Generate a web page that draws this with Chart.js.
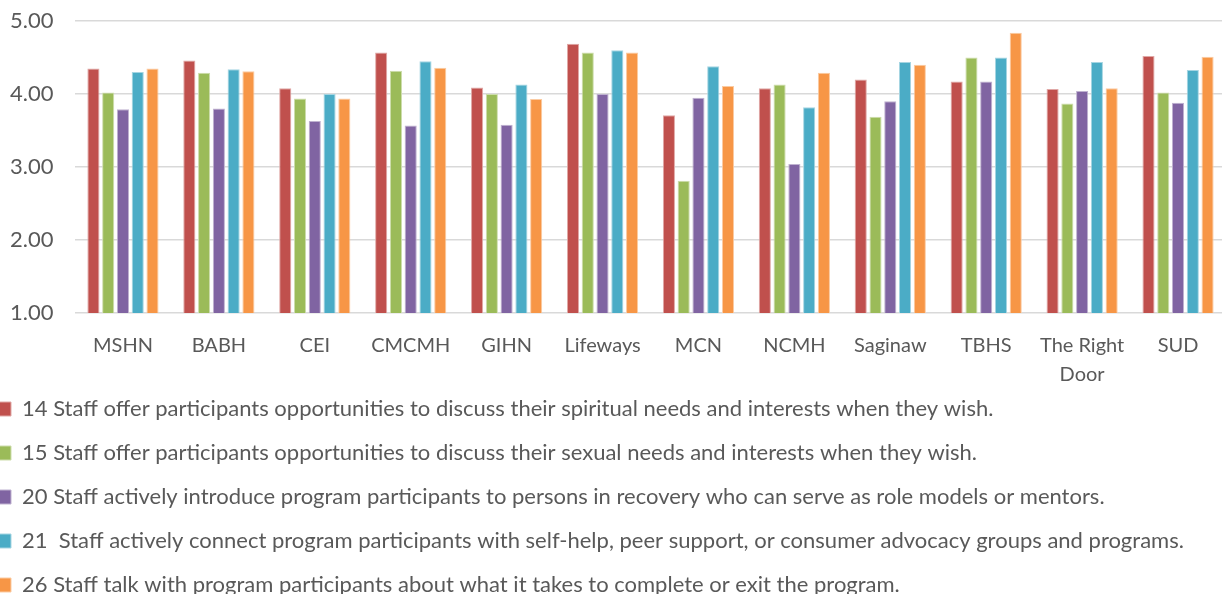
<!DOCTYPE html>
<html>
<head>
<meta charset="utf-8">
<script src="https://cdn.jsdelivr.net/npm/chart.js@4"></script>
<style>
    html, body { margin: 0; padding: 0; background: #fff; overflow: hidden; }
    #wrap { width: 1226px; height: 618px; }
</style>
</head>
<body>
<div id="wrap"><canvas id="fidelityChart"></canvas></div>
<script>
const categories = ["MSHN", "BABH", "CEI", "CMCMH", "GIHN", "Lifeways", "MCN", "NCMH", "Saginaw", "TBHS", ["The Right", "Door"], "SUD"];
const yTicks = [1, 2, 3, 4, 5];

const q14 = [4.35, 4.46, 4.08, 4.57, 4.09, 4.69, 3.71, 4.08, 4.20, 4.17, 4.07, 4.52];
const q15 = [4.02, 4.29, 3.94, 4.32, 4.00, 4.57, 2.81, 4.13, 3.69, 4.50, 3.87, 4.02];
const q20 = [3.79, 3.80, 3.63, 3.57, 3.58, 4.00, 3.95, 3.04, 3.90, 4.17, 4.04, 3.88];
const q21 = [4.30, 4.34, 4.00, 4.45, 4.13, 4.60, 4.38, 3.82, 4.44, 4.50, 4.44, 4.33];
const q26 = [4.35, 4.31, 3.94, 4.36, 3.93, 4.57, 4.11, 4.29, 4.40, 4.84, 4.08, 4.51];

const seriesLabels = [
    "14 Staff offer participants opportunities to discuss their spiritual needs and interests when they wish.",
    "15 Staff offer participants opportunities to discuss their sexual needs and interests when they wish.",
    "20 Staff actively introduce program participants to persons in recovery who can serve as role models or mentors.",
    "21  Staff actively connect program participants with self-help, peer support, or consumer advocacy groups and programs.",
    "26 Staff talk with program participants about what it takes to complete or exit the program."
];
const seriesData = [q14, q15, q20, q21, q26];
const colors = ["#C0504D", "#9BBB59", "#8064A2", "#4BACC6", "#F79646"];
const edgeColors = ["#E0A8A6", "#CDDDAC", "#BFB2D0", "#A5D5E2", "#FBCBA2"];

const textColor = "#595959";
const fontFamily = "Lato, 'Open Sans', sans-serif";

// the original legend hugs the left edge and sits a bit closer to the axis labels
const legendShift = {
    id: "legendShift",
    afterLayout(chart) {
        chart.legend.left -= 34;
        chart.legend.top -= 12;
        chart.legend.bottom -= 12;
    }
};

new Chart(document.getElementById("fidelityChart"), {
    type: "bar",
    data: {
        labels: categories,
        datasets: seriesData.map((values, i) => ({
            label: seriesLabels[i],
            data: values,
            backgroundColor: colors[i],
            borderColor: edgeColors[i],
            borderWidth: 1,
            categoryPercentage: 0.77,
            barPercentage: 0.82
        }))
    },
    options: {
        responsive: true,
        maintainAspectRatio: false,
        animation: false,
        layout: { padding: { top: 21, right: 0, left: 10, bottom: 0 } },
        scales: {
            x: {
                grid: { display: false },
                border: { display: false },
                ticks: {
                    color: textColor,
                    padding: 10,
                    maxRotation: 0,
                    autoSkip: false,
                    font: { family: fontFamily, size: 20, lineHeight: 1.45 }
                },
                afterFit: scale => { scale.height = 75; }
            },
            y: {
                min: 1,
                max: 5,
                afterBuildTicks: scale => { scale.ticks = yTicks.map(v => ({ value: v })); },
                grid: { color: "#d9d9d9", lineWidth: 1.5, drawTicks: false },
                border: { display: false },
                ticks: {
                    color: textColor,
                    padding: 0,
                    crossAlign: "far",
                    font: { family: fontFamily, size: 22 },
                    callback: v => Number(v).toFixed(2)
                },
                afterFit: scale => { scale.width = 65; }
            }
        },
        plugins: {
            legend: {
                position: "bottom",
                align: "start",
                labels: {
                    color: textColor,
                    boxWidth: 13,
                    boxHeight: 14,
                    padding: 22,
                    font: { family: fontFamily, size: 22 }
                }
            },
            tooltip: { enabled: false }
        }
    },
    plugins: [legendShift]
});
</script>
</body>
</html>
